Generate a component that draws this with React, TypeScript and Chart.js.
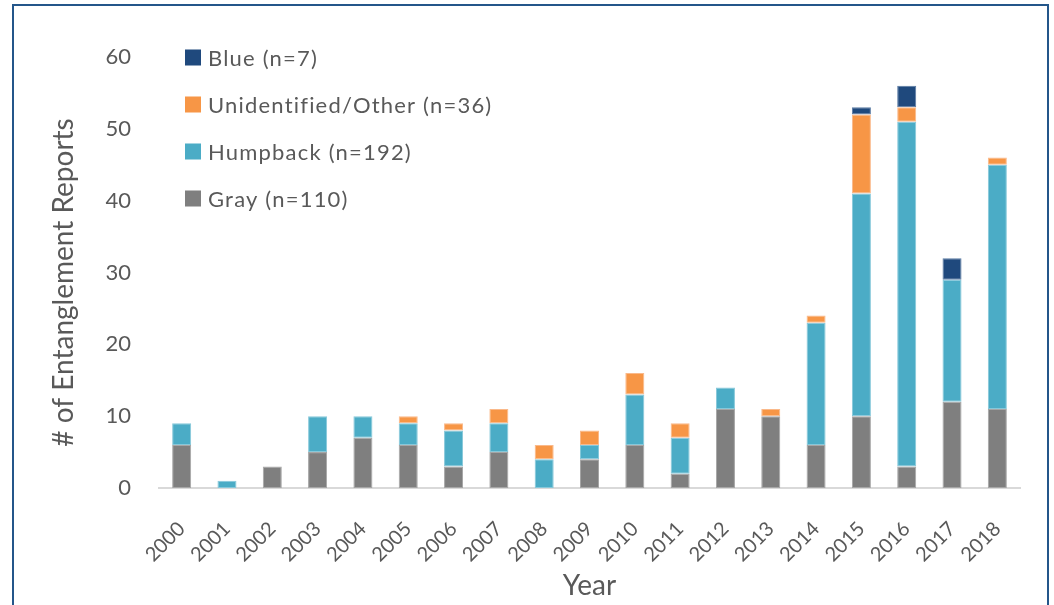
import React, { useEffect, useRef } from "react";
import { Chart, registerables } from "chart.js";

Chart.register(...registerables);

const years = [
  "2000", "2001", "2002", "2003", "2004", "2005", "2006", "2007", "2008", "2009",
  "2010", "2011", "2012", "2013", "2014", "2015", "2016", "2017", "2018",
];
const grayValues = [6, 0, 3, 5, 7, 6, 3, 5, 0, 4, 6, 2, 11, 10, 6, 10, 3, 12, 11];
const humpbackValues = [3, 1, 0, 5, 3, 3, 5, 4, 4, 2, 7, 5, 3, 0, 17, 31, 48, 17, 34];
const unidentifiedValues = [0, 0, 0, 0, 0, 1, 1, 2, 2, 2, 3, 2, 0, 1, 1, 11, 2, 0, 1];
const blueValues = [0, 0, 0, 0, 0, 0, 0, 0, 0, 0, 0, 0, 0, 0, 0, 1, 3, 3, 0];

const seriesLabels = ["Gray (n=110)", "Humpback (n=192)", "Unidentified/Other (n=36)", "Blue (n=7)"];
const seriesColors = ["#7f7f7f", "#4bacc6", "#f79646", "#1f497d"];
const seriesBorders = ["#a6a6a6", "#86c8da", "#fab98a", "#5a7aa3"];

const yTitle = "# of Entanglement Reports";
const xTitle = "Year";
const yMin = 0;
const yMax = 60;
const yStep = 10;

const TEXT = "#595959";
const FONT = "Lato, 'Open Sans', sans-serif";

const legendPlugin = {
  id: "customLegend",
  afterDraw(chart: any) {
    const ctx = chart.ctx;
    const ds = chart.data.datasets;
    const x0 = 185;
    const y0 = 57.5;
    const gap = 47;
    ctx.save();
    ctx.font = `22px ${FONT}`;
    try {
      (ctx as any).letterSpacing = "1.2px";
    } catch (e) {}
    ctx.textBaseline = "middle";
    ctx.textAlign = "left";
    for (let i = ds.length - 1, k = 0; i >= 0; i--, k++) {
      const cy = y0 + k * gap;
      ctx.fillStyle = ds[i].backgroundColor;
      ctx.fillRect(x0, cy - 8, 16, 16);
      ctx.fillStyle = TEXT;
      ctx.fillText(ds[i].label, x0 + 23, cy + 1);
    }
    ctx.restore();
  },
};

const yTitlePlugin = {
  id: "yTitle",
  afterDraw(chart: any) {
    const ctx = chart.ctx;
    const area = chart.chartArea;
    ctx.save();
    ctx.translate(64, (area.top + area.bottom) / 2 + 10);
    ctx.rotate(-Math.PI / 2);
    ctx.font = `28px ${FONT}`;
    ctx.fillStyle = TEXT;
    ctx.textAlign = "center";
    ctx.textBaseline = "middle";
    ctx.fillText(yTitle, 0, 0);
    ctx.restore();
  },
};

export default function App() {
  const canvasRef = useRef<HTMLCanvasElement | null>(null);

  useEffect(() => {
    if (!canvasRef.current) return;
    const valueSets = [grayValues, humpbackValues, unidentifiedValues, blueValues];
    const chart = new Chart(canvasRef.current, {
      type: "bar",
      data: {
        labels: years,
        datasets: valueSets.map((vals, i) => ({
          label: seriesLabels[i],
          data: vals,
          backgroundColor: seriesColors[i],
          borderColor: seriesBorders[i],
          borderWidth: 1,
          borderSkipped: false,
          categoryPercentage: 1,
          barPercentage: 0.42,
        })),
      },
      options: {
        animation: false,
        responsive: false,
        maintainAspectRatio: false,
        layout: { padding: { top: 57, right: 34, left: 0, bottom: 0 } },
        plugins: {
          legend: { display: false },
          tooltip: { enabled: false },
        },
        scales: {
          x: {
            stacked: true,
            grid: { display: false, drawTicks: false },
            border: { display: true, color: "#d9d9d9", width: 2 },
            ticks: {
              color: TEXT,
              font: { family: FONT, size: 20 },
              minRotation: 45,
              maxRotation: 45,
              padding: 29,
              autoSkip: false,
            },
            title: {
              display: true,
              text: xTitle,
              color: TEXT,
              font: { family: FONT, size: 28 },
              padding: { top: 0, bottom: 2 },
            },
            afterFit: (s: any) => {
              s.height = 117;
            },
          },
          y: {
            stacked: true,
            min: yMin,
            max: yMax,
            grid: { display: false, drawTicks: false },
            border: { display: false },
            ticks: {
              stepSize: yStep,
              color: TEXT,
              font: { family: FONT, size: 22 },
              padding: 28,
            },
            title: { display: false },
            afterFit: (s: any) => {
              s.width = 159;
            },
          },
        },
      },
      plugins: [legendPlugin, yTitlePlugin],
    });
    return () => chart.destroy();
  }, []);

  return (
    <div
      style={{
        position: "fixed",
        left: 0,
        top: 0,
        width: 1054,
        height: 605,
        overflow: "hidden",
        background: "#ffffff",
      }}
    >
      <canvas
        ref={canvasRef}
        width={1054}
        height={605}
        style={{ position: "absolute", left: 0, top: 0, width: 1054, height: 605 }}
      />
      <div
        style={{
          position: "absolute",
          left: 12,
          top: 4,
          width: 1037,
          height: 700,
          border: "2px solid #24568a",
          boxSizing: "border-box",
          pointerEvents: "none",
        }}
      />
    </div>
  );
}
